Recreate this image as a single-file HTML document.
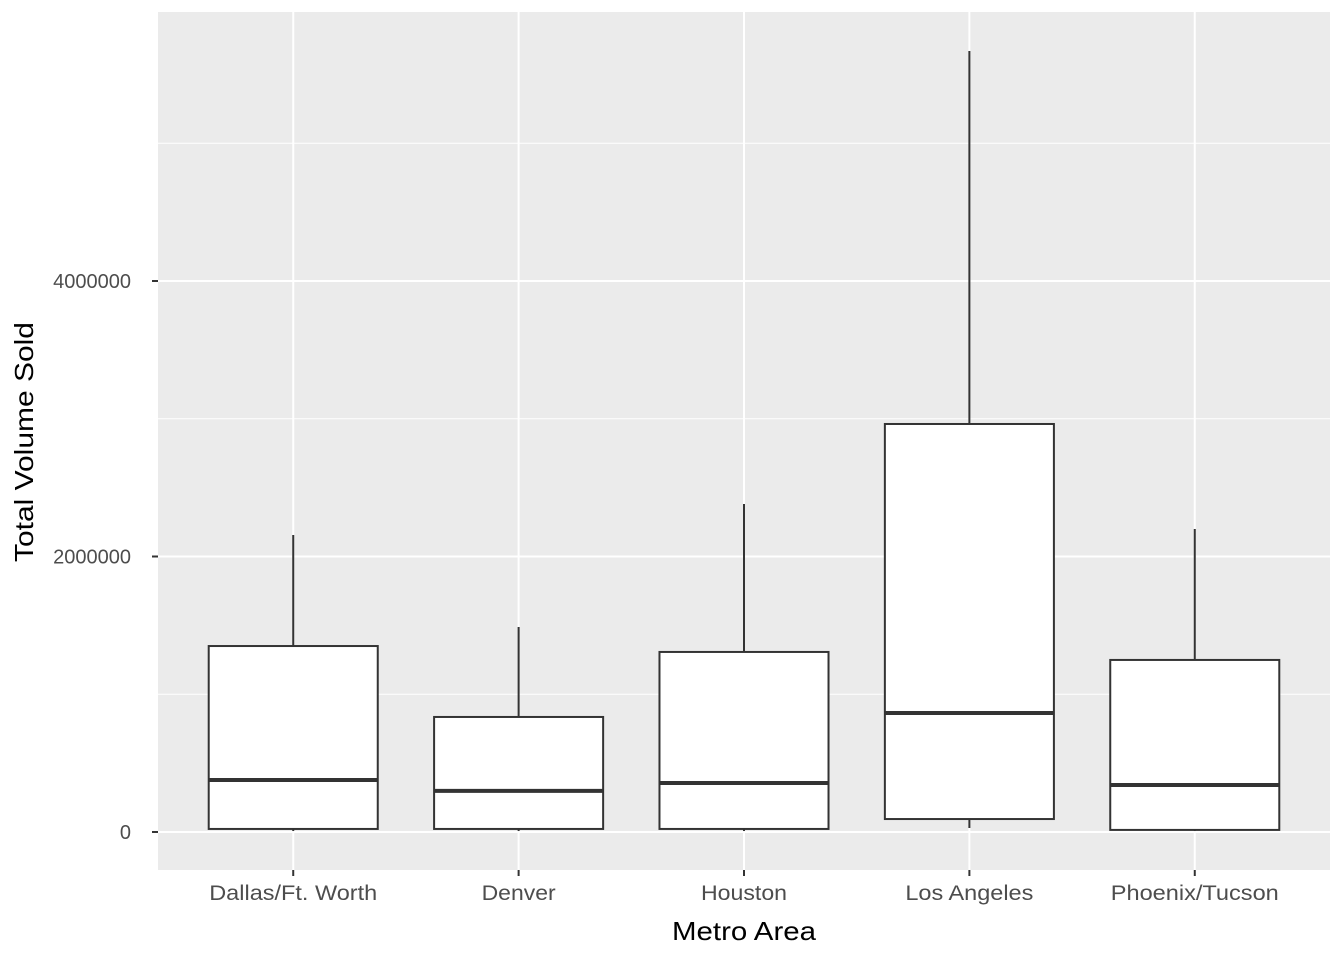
<!DOCTYPE html>
<html><head><meta charset="utf-8"><style>
body{margin:0;background:#fff;}
svg{display:block;font-family:"Liberation Sans",Arial,sans-serif;}
</style></head><body>
<svg id="chart" width="1344" height="960">
<rect x="0" y="0" width="1344" height="960" fill="#fff"/>
<rect x="158" y="12" width="1172" height="858" fill="#ebebeb"/>
<g id="grid"></g><g id="boxes"></g><g id="axes"></g>
<text x="744" y="940" font-size="26" text-anchor="middle" fill="#000" textLength="144" lengthAdjust="spacingAndGlyphs">Metro Area</text>
<text transform="translate(33,442) rotate(-90)" font-size="26" text-anchor="middle" fill="#000" textLength="240" lengthAdjust="spacingAndGlyphs">Total Volume Sold</text>
</svg>
<script>
const categories=["Dallas/Ft. Worth","Denver","Houston","Los Angeles","Phoenix/Tucson"];
const whiskerLow=[7000,7000,7000,29000,7000];
const q1=[22000,22000,22000,94000,15000];
const median=[377000,298000,356000,864000,341000];
const q3=[1350000,835000,1307000,2962000,1249000];
const whiskerHigh=[2156000,1488000,2381000,5670000,2200000];
const majorTicks=[0,2000000,4000000];
const minorTicks=[1000000,3000000,5000000];
const tickLabels=["0","2000000","4000000"];
const labelStyleWidths=[168,74,86,128,168];
const NS="http://www.w3.org/2000/svg";
const yMin=-276000,yMax=5953000,panelTop=12,panelBot=870;
const y=v=>panelBot-(v-yMin)/(yMax-yMin)*(panelBot-panelTop);
const step=1172/(categories.length+0.2);
const x=i=>158+step*(i+0.6);
function mk(tag,a,parent){const e=document.createElementNS(NS,tag);for(const k in a)e.setAttribute(k,a[k]);document.getElementById(parent).appendChild(e);return e;}
minorTicks.forEach(v=>{const e=mk('line',{x1:158,x2:1330,y1:y(v),y2:y(v),stroke:'#fff','stroke-width':1},'grid');

});
majorTicks.forEach((v,i)=>{const e=mk('line',{x1:158,x2:1330,y1:y(v),y2:y(v),stroke:'#fff','stroke-width':2},'grid');


const t=mk('line',{x1:152,x2:158,y1:y(v),y2:y(v),stroke:'#333','stroke-width':2},'axes');


const l=mk('text',{x:131,y:y(v)+7,'font-size':20,'text-anchor':'end',fill:'#4d4d4d'},'axes');l.textContent=tickLabels[i];

});
categories.forEach((c,i)=>{const cx=x(i);
const g=mk('line',{x1:cx,x2:cx,y1:panelTop,y2:panelBot,stroke:'#fff','stroke-width':2},'grid');


const w=step*0.75;
const wh=mk('line',{x1:cx,x2:cx,y1:y(whiskerHigh[i]),y2:y(q3[i]),stroke:'#333','stroke-width':2},'boxes');


const wl=mk('line',{x1:cx,x2:cx,y1:y(q1[i]),y2:y(whiskerLow[i]),stroke:'#333','stroke-width':2},'boxes');


const b=mk('rect',{x:cx-w/2,y:y(q3[i]),width:w,height:y(q1[i])-y(q3[i]),fill:'#fff',stroke:'#333','stroke-width':2},'boxes');


const m=mk('line',{x1:cx-w/2,x2:cx+w/2,y1:y(median[i]),y2:y(median[i]),stroke:'#333','stroke-width':4},'boxes');


const t=mk('line',{x1:cx,x2:cx,y1:870,y2:876,stroke:'#333','stroke-width':2},'axes');


const l=mk('text',{x:cx,y:900,'font-size':21,'text-anchor':'middle',fill:'#4d4d4d',textLength:labelStyleWidths[i],lengthAdjust:'spacingAndGlyphs'},'axes');l.textContent=c;

});
</script>
</body></html>
